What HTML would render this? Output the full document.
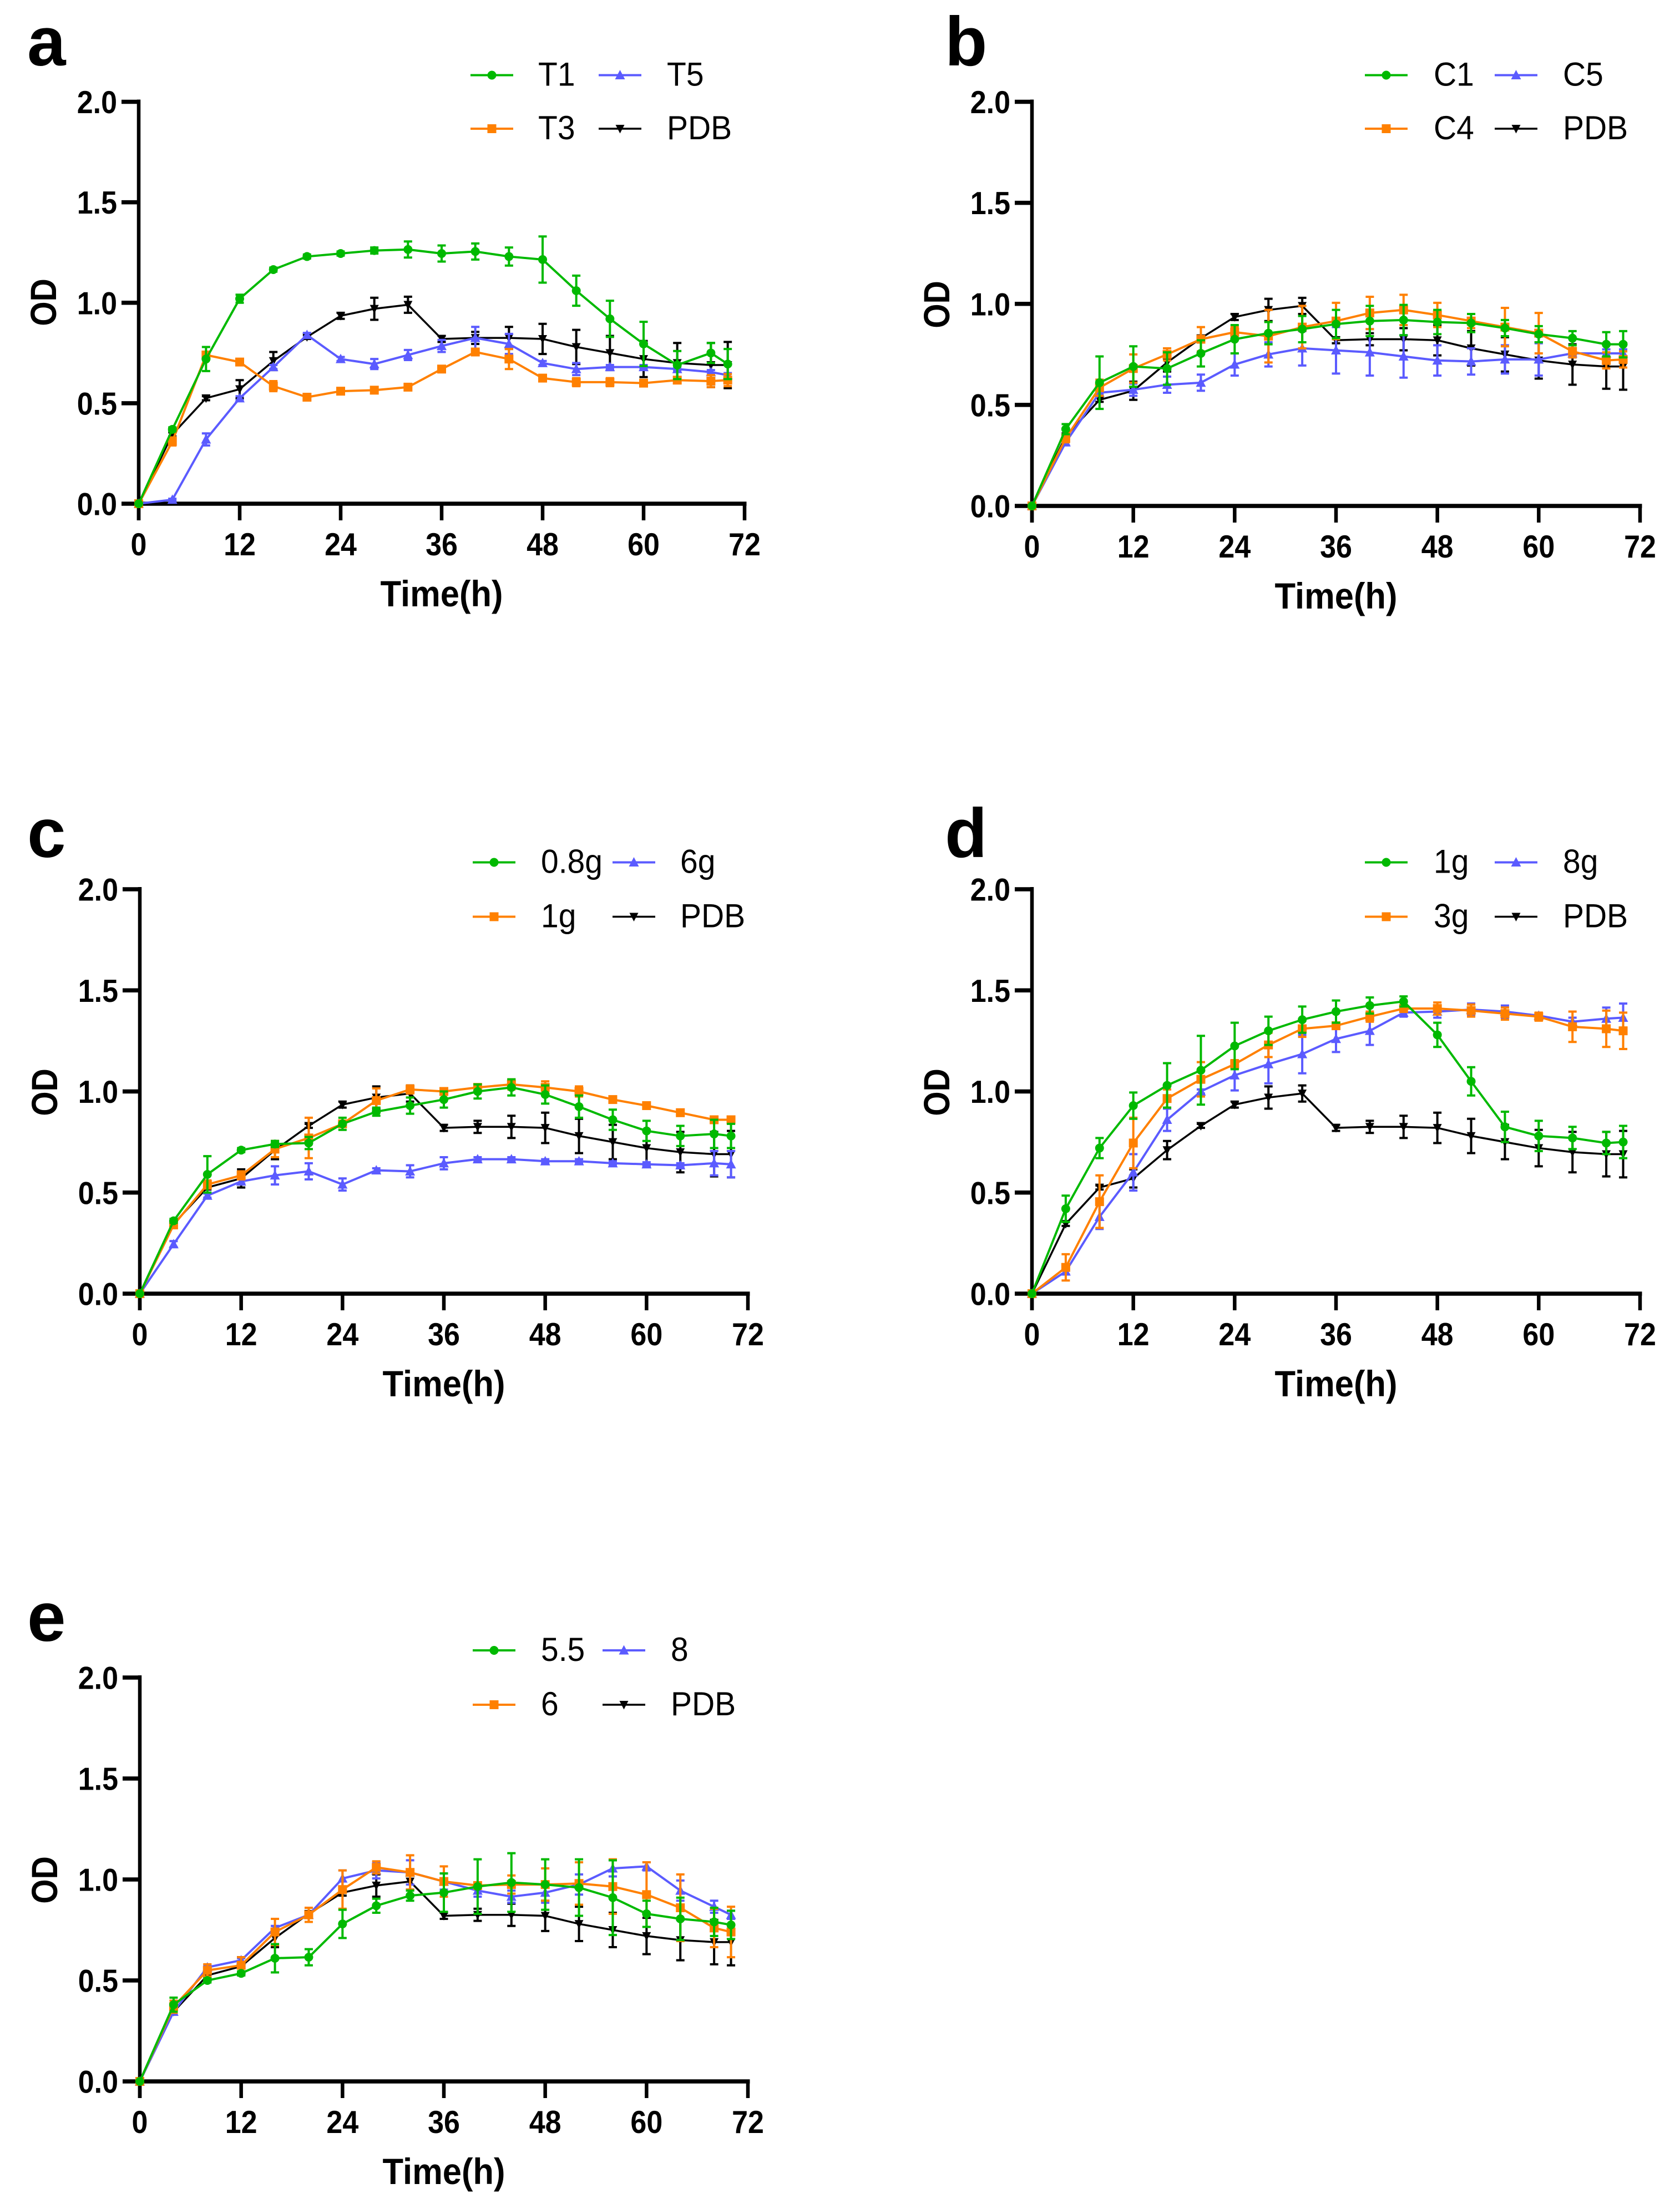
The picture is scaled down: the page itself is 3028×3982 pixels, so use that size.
<!DOCTYPE html>
<html lang="en">
<head>
<meta charset="utf-8">
<title>OD growth curves</title>
<style>
html,body{margin:0;padding:0;background:#fff;}
svg{display:block;}
text{font-family:"Liberation Sans",Arial,sans-serif;fill:#000;}
</style>
</head>
<body>
<svg id="chart" xmlns="http://www.w3.org/2000/svg" width="3028" height="3982" viewBox="0 0 3028 3982"></svg>
<script>
const hours = [0,4,8,12,16,20,24,28,32,36,40,44,48,52,56,60,64,68,70];
const xTickLabels = [0,12,24,36,48,60,72];
const yTickLabels = ["0.0","0.5","1.0","1.5","2.0"];
const pdbValues = [0,.345,.525,.57,.71,.83,.935,.97,.99,.82,.825,.825,.82,.78,.75,.72,.70,.69,.69];
const pdbErrors = [0,.01,.01,.045,.045,.01,.015,.055,.04,.015,.03,.055,.075,.085,.085,.09,.10,.11,.115];

const t1Values = [0,.37,.72,1.02,1.165,1.23,1.245,1.26,1.265,1.245,1.255,1.23,1.215,1.06,.92,.795,.69,.75,.695];
const t1Errors = [0,.01,.06,.02,.01,.01,.01,.015,.04,.04,.04,.045,.115,.075,.09,.11,.07,.05,.075];
const t3Values = [0,.31,.74,.705,.585,.53,.56,.565,.58,.67,.755,.72,.625,.605,.605,.60,.615,.61,.615];
const t3Errors = [0,.02,.01,.01,.025,.01,.01,.01,.01,.015,.01,.05,.015,.02,.02,.015,.01,.03,.03];
const t5Values = [0,.02,.32,.525,.68,.84,.72,.695,.74,.785,.825,.795,.70,.67,.68,.68,.67,.655,.64];
const t5Errors = [0,.005,.03,.01,.01,.01,.01,.025,.025,.03,.055,.05,.01,.03,.01,.01,.01,.01,.01];

const c1Values = [0,.38,.61,.69,.68,.755,.825,.855,.875,.90,.915,.92,.91,.905,.88,.85,.83,.80,.80];
const c1Errors = [0,.025,.13,.1,.08,.065,.07,.055,.065,.07,.075,.075,.06,.045,.04,.04,.035,.06,.065];
const c4Values = [0,.335,.585,.68,.75,.825,.86,.84,.885,.915,.955,.97,.945,.915,.885,.855,.765,.72,.725];
const c4Errors = [0,.02,.04,.07,.03,.06,.025,.13,.105,.09,.08,.075,.06,.035,.095,.1,.03,.04,.04];
const c5Values = [0,.315,.56,.575,.60,.61,.70,.75,.78,.77,.76,.74,.72,.715,.725,.725,.755,.755,.755];
const c5Errors = [0,.015,.01,.03,.04,.04,.055,.06,.085,.115,.115,.105,.075,.065,.07,.08,.02,.02,.02];

const c08gValues = [0,.36,.59,.71,.74,.745,.84,.90,.93,.96,1.0,1.02,.985,.925,.86,.805,.78,.79,.78];
const c08gErrors = [0,.01,.09,.01,.015,.03,.03,.02,.04,.04,.035,.04,.045,.055,.05,.05,.05,.07,.06];
const c1gValues = [0,.34,.54,.585,.715,.77,.84,.955,1.01,1.0,1.02,1.035,1.02,1.0,.96,.93,.895,.86,.86];
const c1gErrors = [0,.01,.02,.02,.04,.10,.01,.06,.02,.015,.015,.025,.03,.025,.01,.01,.01,.01,.01];
const c6gValues = [0,.245,.485,.555,.585,.605,.54,.61,.605,.645,.665,.665,.655,.655,.645,.64,.635,.645,.64];
const c6gErrors = [0,.015,.01,.01,.045,.04,.03,.01,.03,.03,.01,.01,.01,.01,.01,.01,.01,.06,.065];

const d1gValues = [0,.42,.72,.93,1.03,1.105,1.225,1.30,1.355,1.395,1.425,1.445,1.28,1.05,.825,.78,.77,.745,.75];
const d1gErrors = [0,.065,.05,.065,.11,.17,.115,.07,.065,.055,.04,.025,.06,.07,.075,.075,.055,.055,.08];
const d3gValues = [0,.13,.455,.745,.965,1.06,1.135,1.23,1.31,1.325,1.37,1.41,1.41,1.40,1.385,1.37,1.32,1.31,1.30];
const d3gErrors = [0,.065,.13,.125,.045,.085,.02,.06,.04,.015,.025,.015,.03,.03,.03,.02,.075,.09,.09];
const d8gValues = [0,.11,.38,.60,.86,1.0,1.08,1.135,1.185,1.26,1.30,1.39,1.395,1.405,1.395,1.375,1.345,1.36,1.365];
const d8gErrors = [0,.015,.06,.09,.055,.01,.075,.095,.095,.065,.07,.02,.03,.03,.03,.01,.02,.055,.07];

const e55Values = [0,.38,.50,.535,.61,.615,.78,.87,.92,.935,.965,.985,.975,.96,.91,.83,.805,.79,.775];
const e55Errors = [0,.035,.01,.01,.07,.04,.07,.035,.025,.095,.135,.145,.125,.14,.185,.065,.105,.07,.07];
const e6Values = [0,.37,.55,.575,.74,.825,.95,1.06,1.035,.99,.97,.975,.975,.98,.965,.925,.86,.76,.74];
const e6Errors = [0,.03,.03,.04,.065,.035,.095,.03,.085,.075,.015,.045,.08,.105,.135,.16,.165,.095,.125];
const e8Values = [0,.345,.565,.60,.76,.825,1.005,1.045,1.035,.99,.945,.915,.935,.975,1.055,1.065,.945,.865,.825];
const e8Errors = [0,.01,.01,.01,.01,.01,.04,.04,.06,.04,.03,.03,.05,.05,.04,.02,.05,.03,.02];

const GREEN = "#00b900", ORANGE = "#ff8000", BLUE = "#5b5bff", BLACK = "#000000";
const NS = "http://www.w3.org/2000/svg";
const svg = document.getElementById("chart");

const panels = [
  {letter:"a", lx:49, ly:118, x0:250, x1:1342, y0:908, y2:183.5,
   leg:{c1:848,c2:1079,t1:970,t2:1202,r1:135.5,r2:232},
   names:["T1","T3","T5"], vals:[t1Values,t3Values,t5Values], errs:[t1Errors,t3Errors,t5Errors]},
  {letter:"b", lx:1703, ly:118, x0:1860, x1:2956, y0:912, y2:183.5,
   leg:{c1:2460,c2:2694,t1:2584,t2:2817,r1:135.5,r2:232},
   names:["C1","C4","C5"], vals:[c1Values,c4Values,c5Values], errs:[c1Errors,c4Errors,c5Errors]},
  {letter:"c", lx:49, ly:1545, x0:252, x1:1348, y0:2332, y2:1603,
   leg:{c1:852,c2:1104,t1:975,t2:1226,r1:1554.5,r2:1652.5},
   names:["0.8g","1g","6g"], vals:[c08gValues,c1gValues,c6gValues], errs:[c08gErrors,c1gErrors,c6gErrors]},
  {letter:"d", lx:1703, ly:1545, x0:1860, x1:2956, y0:2332, y2:1603,
   leg:{c1:2460,c2:2694,t1:2584,t2:2817,r1:1554.5,r2:1652.5},
   names:["1g","3g","8g"], vals:[d1gValues,d3gValues,d8gValues], errs:[d1gErrors,d3gErrors,d8gErrors]},
  {letter:"e", lx:49, ly:2958, x0:252, x1:1348, y0:3752, y2:3024,
   leg:{c1:852,c2:1086,t1:975,t2:1209,r1:2975,r2:3073},
   names:["5.5","6","8"], vals:[e55Values,e6Values,e8Values], errs:[e55Errors,e6Errors,e8Errors]}
];

function make(tag, parent, attrs){
  const el = document.createElementNS(NS, tag);
  for (const k in attrs) el.setAttribute(k, attrs[k]);
  parent.appendChild(el);
  return el;
}
function makeText(parent, x, y, str, size, weight, anchor, sy, rot){
  const t = rot ? "translate("+x+" "+y+") rotate(-90) scale(1 "+sy+")" : "translate("+x+" "+y+") scale(1 "+sy+")";
  const el = make("text", parent, {transform:t, "font-size":size, "font-weight":weight, "text-anchor":anchor});
  el.textContent = str;
  return el;
}
function drawMarker(parent, kind, cx, cy, color){
  let el;
  if (kind === "circle") {
    el = make("circle", parent, {cx:cx, cy:cy, r:8, fill:color});
  } else if (kind === "square") {
    el = make("rect", parent, {x:cx-8, y:cy-8, width:16, height:16, fill:color});
  } else if (kind === "up") {
    el = make("polygon", parent, {points:(cx-9)+","+(cy+7.5)+" "+(cx+9)+","+(cy+7.5)+" "+cx+","+(cy-9.5), fill:color});
  } else {
    el = make("polygon", parent, {points:(cx-8)+","+(cy-7)+" "+(cx+8)+","+(cy-7)+" "+cx+","+(cy+8.5), fill:color});
  }
  
  
}
function drawSeries(parent, p, values, errors, color, kind, width){
  const sx = h => p.x0 + h * (p.x1 - p.x0) / 72;
  const sy = v => p.y0 - v * (p.y0 - p.y2) / 2;
  const g = make("g", parent, {});
  
  
  hours.forEach((h, i) => {
    if (!errors[i]) return;
    const x = sx(h), top = sy(values[i] + errors[i]), bot = sy(values[i] - errors[i]);
    const bar = make("path", g, {d:"M"+x+" "+top+"V"+bot+"M"+(x-7.5)+" "+top+"H"+(x+7.5)+"M"+(x-7.5)+" "+bot+"H"+(x+7.5), stroke:color, "stroke-width":4, fill:"none"});
    
    
  });
  const line = make("polyline", g, {points:hours.map((h, i) => sx(h)+","+sy(values[i])).join(" "), fill:"none", stroke:color, "stroke-width":width, "stroke-linejoin":"round"});
  
  
  hours.forEach((h, i) => drawMarker(g, kind, sx(h), sy(values[i]), color));
}
function drawLegendEntry(parent, lineX, textX, rowY, label, color, kind, width){
  const g = make("g", parent, {});
  
  
  make("line", g, {x1:lineX, x2:lineX+77, y1:rowY, y2:rowY, stroke:color, "stroke-width":width});
  drawMarker(g, kind, lineX+38.5, rowY, color);
  makeText(g, textX, rowY+19, label, 57, "400", "start", 1.05, false);
}
function drawPanel(p){
  const g = make("g", svg, {});
  
  
  const sx = h => p.x0 + h * (p.x1 - p.x0) / 72;
  const sy = v => p.y0 - v * (p.y0 - p.y2) / 2;

  const letter = makeText(g, p.lx, p.ly, p.letter, 125, "700", "start", 1, false);
  
  

  const axes = make("g", g, {});
  
  
  const yAxis = make("line", axes, {x1:p.x0, x2:p.x0, y1:p.y2-4, y2:p.y0+30, stroke:"#000", "stroke-width":6.5});
  
  
  const xAxis = make("line", axes, {x1:p.x0-3, x2:p.x1+3.5, y1:p.y0, y2:p.y0, stroke:"#000", "stroke-width":7.5});
  
  

  yTickLabels.forEach(label => {
    const y = sy(parseFloat(label));
    const tick = make("line", axes, {x1:p.x0-31, x2:p.x0, y1:y, y2:y, stroke:"#000", "stroke-width":7.5});
    
    
    const txt = makeText(axes, p.x0-39, y+20.5, label, 52, "700", "end", 1.1, false);
    
    
  });
  xTickLabels.forEach(label => {
    const x = sx(label);
    const tick = make("line", axes, {x1:x, x2:x, y1:p.y0, y2:p.y0+30, stroke:"#000", "stroke-width":6.5});
    
    
    const txt = makeText(axes, x, p.y0+93, String(label), 52, "700", "middle", 1.1, false);
    
    
  });
  const xt = makeText(g, (p.x0+p.x1)/2, p.y0+185, "Time(h)", 61.5, "700", "middle", 1.07, false);
  
  
  const yt = makeText(g, p.x0-149, p.y0-363, "OD", 57, "700", "middle", 1.16, true);
  
  

  drawSeries(g, p, pdbValues, pdbErrors, BLACK, "down", 3.5);
  drawSeries(g, p, p.vals[2], p.errs[2], BLUE, "up", 4);
  drawSeries(g, p, p.vals[1], p.errs[1], ORANGE, "square", 4);
  drawSeries(g, p, p.vals[0], p.errs[0], GREEN, "circle", 4);

  const legend = make("g", g, {});
  
  
  drawLegendEntry(legend, p.leg.c1, p.leg.t1, p.leg.r1, p.names[0], GREEN, "circle", 4);
  drawLegendEntry(legend, p.leg.c1, p.leg.t1, p.leg.r2, p.names[1], ORANGE, "square", 4);
  drawLegendEntry(legend, p.leg.c2, p.leg.t2, p.leg.r1, p.names[2], BLUE, "up", 4);
  drawLegendEntry(legend, p.leg.c2, p.leg.t2, p.leg.r2, "PDB", BLACK, "down", 3.5);
}
panels.forEach(drawPanel);
</script>
</body>
</html>
